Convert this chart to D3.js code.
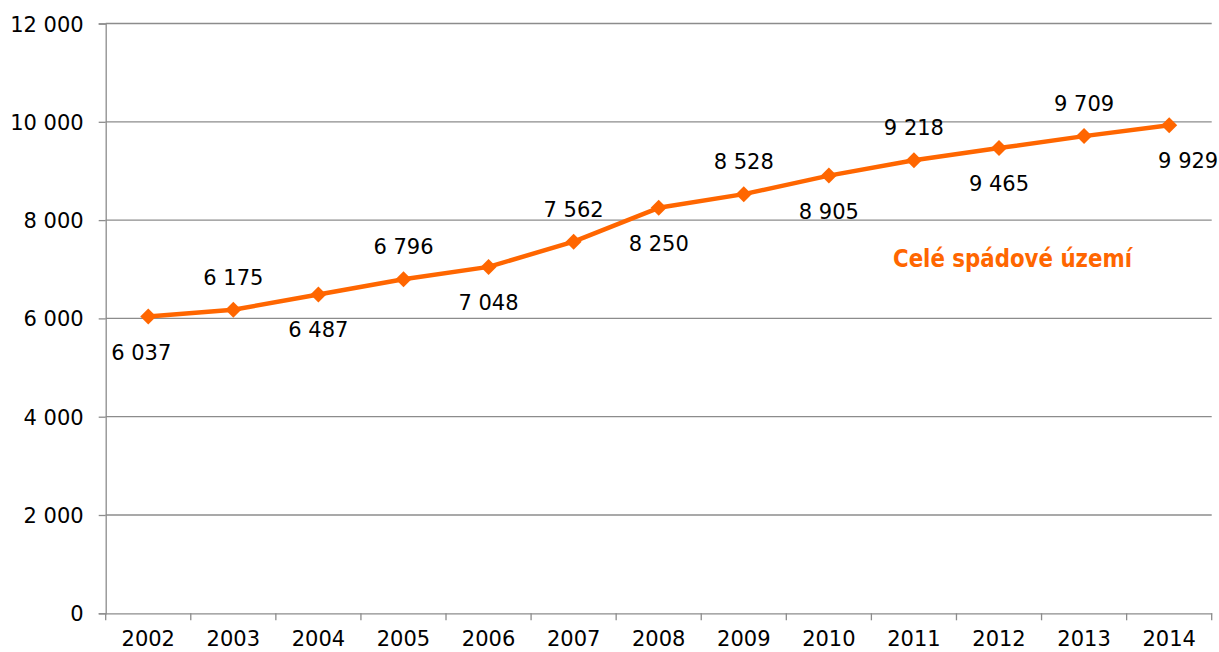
<!DOCTYPE html>
<html><head><meta charset="utf-8">
<script src="https://cdn.jsdelivr.net/npm/d3@7"></script>
<style>
body{margin:0;background:#fff;}
svg{display:block;}
text{font-family:"DejaVu Sans",Verdana,sans-serif;}
</style></head>
<body>
<svg id="c" width="1219" height="652"></svg>
<script>
const years = ["2002","2003","2004","2005","2006","2007","2008","2009","2010","2011","2012","2013","2014"];
const values = [6037,6175,6487,6796,7048,7562,8250,8528,8905,9218,9465,9709,9929];
const yTicks = [0,2000,4000,6000,8000,10000,12000];
const seriesName = "Celé spádové území";

(function(){
const svg = d3.select("#c");
const mLeft = 105.7, mRight = 1211.7, mTop = 23.5, mBottom = 613.3;
const x = d3.scaleBand().domain(years).range([mLeft,mRight]);
const y = d3.scaleLinear().domain([0,12000]).range([mBottom,mTop]);
const fmt = v => d3.format(",")(v).replace(/,/g," ");
const grid = "#8c8c8c";
const orange = "#ff6600";
const fs = "21px";

// gridlines
svg.append("g").selectAll("line").data(yTicks.filter(d=>d>0)).join("line")
  .attr("x1",mLeft).attr("x2",mRight).attr("y1",d=>y(d)).attr("y2",d=>y(d))
  .attr("stroke",grid).attr("stroke-width",1.3);

// y axis
const ya = svg.append("g").attr("transform",`translate(${mLeft},0)`)
  .call(d3.axisLeft(y).tickValues(yTicks).tickFormat(fmt).tickSize(7).tickPadding(15));
ya.select(".domain").attr("stroke",grid).attr("stroke-width",1.3);
ya.selectAll(".tick line").attr("stroke",grid).attr("stroke-width",1.3);
ya.selectAll("text").attr("font-size",fs).attr("fill","#000").attr("font-family","DejaVu Sans").attr("dy","0.36em");

// x axis
const xa = svg.append("g").attr("transform",`translate(0,${mBottom})`)
  .call(d3.axisBottom(x).tickSize(0).tickPadding(18));
xa.select(".domain").attr("stroke",grid).attr("stroke-width",1.3);
xa.selectAll("text").attr("font-size",fs).attr("fill","#000").attr("font-family","DejaVu Sans");
// category boundary ticks
const bounds = years.map(d=>x(d)).concat([mRight]);
svg.append("g").selectAll("line").data(bounds).join("line")
  .attr("x1",d=>d).attr("x2",d=>d).attr("y1",mBottom).attr("y2",mBottom+7)
  .attr("stroke",grid).attr("stroke-width",1.3);

const cx = d => x(d) + x.bandwidth()/2;
const pts = years.map((d,i)=>({year:d,v:values[i],i}));

// line
svg.append("path").datum(pts)
  .attr("d",d3.line().x(d=>cx(d.year)).y(d=>y(d.v)))
  .attr("fill","none").attr("stroke",orange).attr("stroke-width",4.5).attr("stroke-linejoin","round");

// markers
svg.append("g").selectAll("path").data(pts).join("path")
  .attr("transform",d=>`translate(${cx(d.year)},${y(d.v)})`)
  .attr("d","M0,-8L8,0L0,8L-8,0Z").attr("fill",orange);

// labels
const labelDx = i => i===0 ? -7 : (i===years.length-1 ? 19 : 0);
svg.append("g").selectAll("text").data(pts).join("text")
  .attr("x",d=>cx(d.year)+labelDx(d.i))
  .attr("y",d=>y(d.v) + (d.i%2===0 ? 43 : -25))
  .attr("text-anchor","middle").attr("font-size",fs).attr("fill","#000")
  .text(d=>fmt(d.v));

// series name
svg.append("text").attr("x",893).attr("y",267)
  .attr("font-family","Lato,sans-serif").attr("font-weight","bold")
  .attr("font-size","24px").attr("fill",orange)
  .attr("textLength",239).attr("lengthAdjust","spacingAndGlyphs")
  .text(seriesName);
})();
</script>
</body></html>
